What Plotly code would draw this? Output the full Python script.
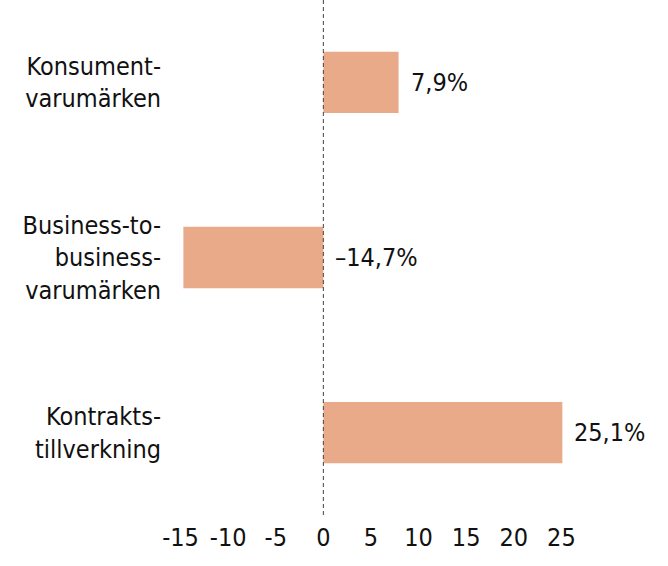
import plotly.graph_objects as go

categories = ["Konsument-<br>varumärken", "Business-to-<br>business-<br>varumärken", "Kontrakts-<br>tillverkning"]
values = [7.9, -14.7, 25.1]
value_labels = ["7,9%", "\u201314,7%", "25,1%"]
tick_vals = [-15, -10, -5, 0, 5, 10, 15, 20, 25]
tick_text = ["-15", "-10", "-5", "0", "5", "10", "15", "20", "25"]

FONT = "Liberation Sans Narrow, DejaVu Sans Condensed, Arial Narrow, sans-serif"
BAR = "#E8AA88"

fig = go.Figure()
fig.add_trace(go.Bar(
    y=list(range(len(categories))), x=values, orientation="h",
    marker=dict(color=BAR, line=dict(width=0)), width=0.35,
    hoverinfo="skip",
))

for i, (v, t) in enumerate(zip(values, value_labels)):
    fig.add_annotation(x=max(v, 0), y=i, text=t, showarrow=False,
                       xanchor="left", xshift=10, yanchor="middle",
                       font=dict(family=FONT, size=25, color="#111111"))

fig.add_shape(type="line", xref="x", yref="paper", x0=0, x1=0, y0=0, y1=1,
              line=dict(color="#444444", width=1, dash="4px,3px"))

fig.update_layout(
    width=668, height=566,
    margin=dict(l=171, r=59, t=0, b=51, autoexpand=False),
    paper_bgcolor="white", plot_bgcolor="white",
    showlegend=False,
    font=dict(family=FONT, size=25, color="#111111"),
    xaxis=dict(range=[-16, 30], tickvals=tick_vals, ticktext=tick_text,
               showgrid=False, zeroline=False, showline=False, automargin=False,
               ticks="", ticklabelstandoff=5,
               tickfont=dict(family=FONT, size=25, color="#111111")),
    yaxis=dict(range=[2.47, -0.47], tickvals=list(range(len(categories))),
               ticktext=categories, showgrid=False, zeroline=False, showline=False,
               automargin=False,
               ticks="outside", ticklen=4, tickcolor="rgba(0,0,0,0)",
               tickfont=dict(family=FONT, size=25, color="#111111")),
)

fig.write_html("out.html", config={"displayModeBar": False},
               post_script="document.body.style.margin='0px';")
